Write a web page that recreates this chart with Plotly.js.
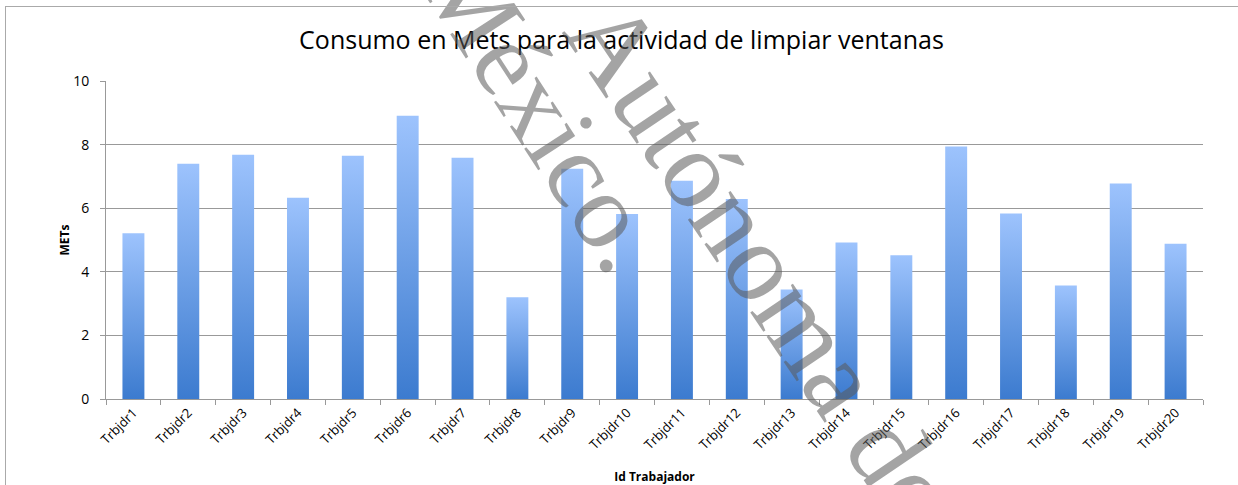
<!DOCTYPE html>
<html>
<head>
<meta charset="utf-8">
<script src="https://cdn.plot.ly/plotly-3.0.1.min.js"></script>
<style>
  html, body { margin: 0; padding: 0; background: #fff; overflow: hidden; }
  #wrap { position: relative; width: 1238px; height: 485px; overflow: hidden; }
  #chart { width: 1238px; height: 485px; }
  #frame { position: absolute; left: 5px; top: 6px; width: 1400px; height: 800px;
           border-left: 1.5px solid #aaa; border-top: 1.5px solid #aaa; pointer-events: none; }
</style>
</head>
<body>
<div id="wrap">
  <div id="chart"></div>
  <div id="frame"></div>
</div>
<script>
const categories = ["Trbjdr1","Trbjdr2","Trbjdr3","Trbjdr4","Trbjdr5","Trbjdr6","Trbjdr7","Trbjdr8","Trbjdr9","Trbjdr10",
                    "Trbjdr11","Trbjdr12","Trbjdr13","Trbjdr14","Trbjdr15","Trbjdr16","Trbjdr17","Trbjdr18","Trbjdr19","Trbjdr20"];
const mets = [5.21, 7.40, 7.68, 6.33, 7.65, 8.91, 7.59, 3.20, 7.24, 5.82,
              6.86, 6.29, 3.44, 4.92, 4.52, 7.94, 5.83, 3.57, 6.78, 4.88];
const yTicks = [0, 2, 4, 6, 8, 10];
const chartTitle = "Consumo en Mets para la actividad de limpiar ventanas";
const xTitle = "Id Trabajador";
const yTitle = "METs";
const watermark1 = "México.";
const watermark2 = "Autónoma de";

const baseFont = "'Open Sans', Lato, 'Liberation Sans', sans-serif";
const wmFont = "'Liberation Serif', 'DejaVu Serif', serif";

const trace = {
  type: "bar",
  x: categories,
  y: mets,
  marker: { color: "#6a9de6", line: { width: 0 } },
  hoverinfo: "x+y"
};

const layout = {
  width: 1238,
  height: 485,
  margin: { l: 105.5, r: 35, t: 81, b: 86, pad: 0 },
  paper_bgcolor: "#ffffff",
  plot_bgcolor: "#ffffff",
  bargap: 0.6,
  showlegend: false,
  font: { family: baseFont, color: "#000" },
  title: {
    text: chartTitle,
    font: { family: baseFont, size: 25, color: "#000" },
    x: 0.502, xref: "container", xanchor: "center",
    y: 45, yref: "container", yanchor: "middle"
  },
  xaxis: {
    type: "category",
    tickangle: -45,
    tickson: "boundaries",
    ticks: "outside",
    ticklen: 5,
    tickcolor: "#999",
    showline: true,
    linecolor: "#999",
    linewidth: 1,
    showgrid: false,
    tickfont: { family: baseFont, size: 13, color: "#000" },
    title: { text: xTitle, font: { family: baseFont, size: 12, color: "#000", weight: "bold" }, standoff: 20 }
  },
  yaxis: {
    range: [0, 10],
    tickvals: yTicks,
    ticks: "outside",
    ticklen: 5,
    tickcolor: "#999",
    ticklabelstandoff: 8,
    showline: true,
    linecolor: "#999",
    linewidth: 1,
    showgrid: true,
    gridcolor: "#999",
    gridwidth: 1,
    zeroline: false,
    tickfont: { family: baseFont, size: 14, color: "#000" },
    title: { text: yTitle, font: { family: baseFont, size: 12, color: "#000", weight: "bold" }, standoff: 0 }
  },
  annotations: [
    {
      text: watermark1, xref: "paper", yref: "paper",
      x: (543 - 105.5) / 1097.5, y: (399 - 110) / 318,
      xanchor: "center", yanchor: "middle", showarrow: false, textangle: 57,
      font: { family: wmFont, size: 108, color: "rgba(90,90,90,0.55)" }
    },
    {
      text: watermark2, xref: "paper", yref: "paper",
      x: (762 - 105.5) / 1097.5, y: (399 - 262) / 318,
      xanchor: "center", yanchor: "middle", showarrow: false, textangle: 56,
      font: { family: wmFont, size: 112, color: "rgba(90,90,90,0.55)" }
    }
  ]
};

Plotly.newPlot("chart", [trace], layout, { staticPlot: true, displayModeBar: false }).then(function (gd) {
  const svg = gd.querySelector("svg.main-svg");
  const ns = "http://www.w3.org/2000/svg";
  let defs = svg.querySelector("defs");
  if (!defs) { defs = document.createElementNS(ns, "defs"); svg.insertBefore(defs, svg.firstChild); }
  const grad = document.createElementNS(ns, "linearGradient");
  grad.setAttribute("id", "barGrad");
  grad.setAttribute("x1", "0"); grad.setAttribute("y1", "0");
  grad.setAttribute("x2", "0"); grad.setAttribute("y2", "1");
  const s1 = document.createElementNS(ns, "stop");
  s1.setAttribute("offset", "0%"); s1.setAttribute("stop-color", "#9dc3fd");
  const s2 = document.createElementNS(ns, "stop");
  s2.setAttribute("offset", "100%"); s2.setAttribute("stop-color", "#3c7bcf");
  grad.appendChild(s1); grad.appendChild(s2);
  defs.appendChild(grad);
  gd.querySelectorAll(".barlayer .point path").forEach(function (p) {
    p.style.fill = "url(#barGrad)";
  });
});
</script>
</body>
</html>
